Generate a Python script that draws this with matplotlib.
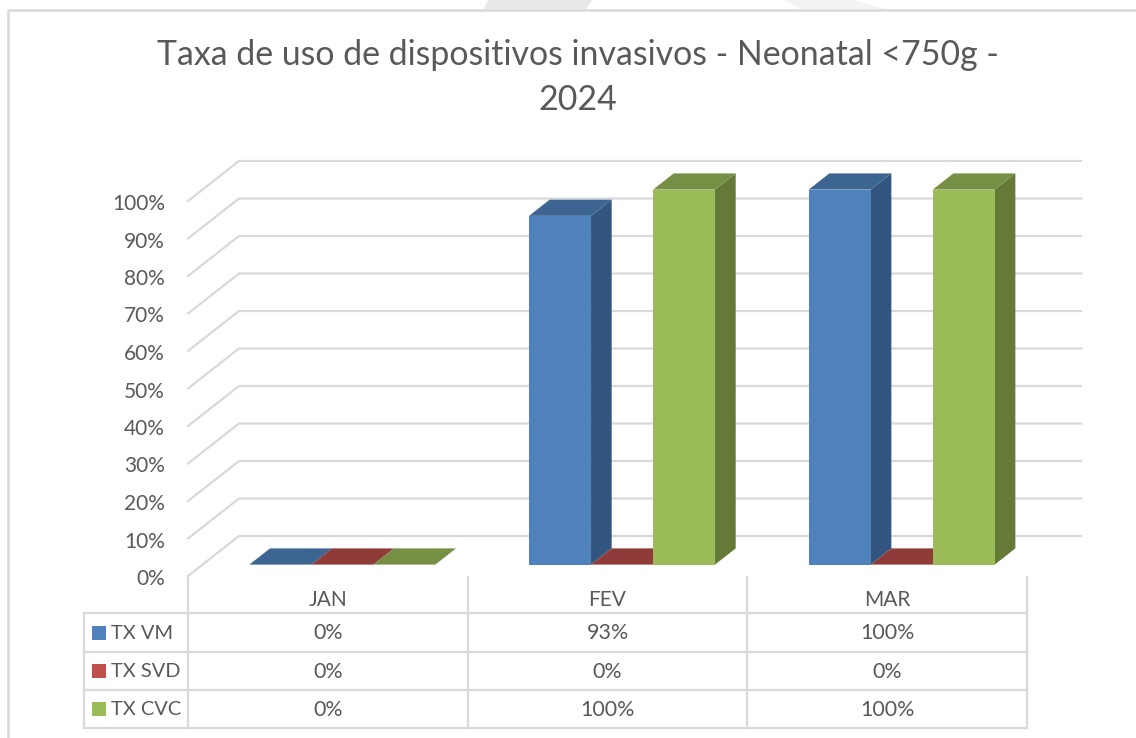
import matplotlib
matplotlib.use("Agg")
import matplotlib.pyplot as plt
from matplotlib.patches import Polygon, Rectangle
from matplotlib.transforms import ScaledTranslation

plt.rcParams['font.family'] = ['Lato', 'DejaVu Sans']

# ---- data ----
title = "Taxa de uso de dispositivos invasivos - Neonatal <750g -\n2024"
months = ["JAN", "FEV", "MAR"]
series = ["TX VM", "TX SVD", "TX CVC"]
tx_vm = [0, 93, 100]
tx_svd = [0, 0, 0]
tx_cvc = [0, 100, 100]
yticks = list(range(0, 101, 10))

# ---- styles ----
W, H = 1136, 738
GRID = "#d9d9d9"
TEXT = "#595959"
front = ["#4F81BD", "#C0504D", "#9BBB59"]
top = ["#3D6592", "#8F3B39", "#778F44"]
side = ["#325680", "#7F3331", "#647A36"]

fig = plt.figure(figsize=(W / 100, H / 100), dpi=100, facecolor="white")

# axes occupies the plot's front face: x=categories, y=percent
L, R, T0, B0 = 188, 1027, 201, 576
ax = fig.add_axes([L / W, 1 - B0 / H, (R - L) / W, (B0 - T0) / H])
ax.set_xlim(0, 3)
ax.set_ylim(0, 100)
ax.patch.set_visible(False)
for s in ax.spines.values():
    s.set_visible(False)
ax.set_xticks([])
ax.set_yticks(yticks)
ax.set_yticklabels([f"{v}%" for v in yticks], fontsize=15, color=TEXT)
ax.tick_params(axis="y", length=0, pad=16.5)
for lab in ax.get_yticklabels():
    lab.set_transform(lab.get_transform() + ScaledTranslation(0, -1 / 100, fig.dpi_scale_trans))

# scale helpers: pixels -> data units
sx = 3 / (R - L)
sy = 100 / (B0 - T0)
X = lambda px: (px - L) * sx
Y = lambda py: (B0 - py) * sy
DX, DY = 51 * sx, 40 * sy        # full depth of the 3D box


def proj(x, v, d):
    """Project category x / value v at depth fraction d into data coords."""
    return (x + d * DX, v + d * DY)


# walls
for v in yticks:
    ax.plot([X(L), X(L) + DX, X(1081)], [v, v + DY, v + DY],
            color=GRID, lw=1.6, clip_on=False, zorder=1, solid_joinstyle="miter")

# 3D bars
bar_w = 62 * sx
d0, d1 = 0.285, 0.69
group_off = 0.5 - 1.5 * 62 / 279.67
values = [tx_vm, tx_svd, tx_cvc]
for ci in range(len(months)):
    for si, vals in enumerate(values):
        v = vals[ci]
        x0 = ci + group_off + si * bar_w
        x1 = x0 + bar_w
        z = 3 + ci + si * 0.1
        if v > 0:
            ax.add_patch(Polygon([proj(x1, 0, d0), proj(x1, 0, d1), proj(x1, v, d1), proj(x1, v, d0)],
                                 fc=side[si], ec="none", clip_on=False, zorder=z))
        ax.add_patch(Polygon([proj(x0, v, d0), proj(x1, v, d0), proj(x1, v, d1), proj(x0, v, d1)],
                             fc=top[si], ec="none", clip_on=False, zorder=z))
        if v > 0:
            ax.add_patch(Polygon([proj(x0, 0, d0), proj(x1, 0, d0), proj(x1, v, d0), proj(x0, v, d0)],
                                 fc=front[si], ec="none", clip_on=False, zorder=z + 0.05))

# data table
rows_px = [613, 652, 690, 728]
tbl_left = 84
kw = dict(color=GRID, lw=1.6, clip_on=False, zorder=2, solid_capstyle="projecting")
for py in rows_px:
    ax.plot([X(tbl_left), 3], [Y(py), Y(py)], **kw)
ax.plot([X(tbl_left)] * 2, [Y(rows_px[0]), Y(rows_px[-1])], **kw)
for c in range(4):
    ax.plot([c, c], [Y(577), Y(rows_px[-1])], **kw)
for i, m in enumerate(months):
    ax.text(i + 0.5, Y(600), m, ha="center", va="center", fontsize=15, color=TEXT, clip_on=False)
for r, (name, vals) in enumerate(zip(series, values)):
    yc = Y((rows_px[r] + rows_px[r + 1]) / 2)
    ax.add_patch(Rectangle((X(92), yc - 7 * sy), 14 * sx, 14 * sy, fc=front[r], ec="none", clip_on=False, zorder=3))
    ax.text(X(111), yc - 0.2, name, ha="left", va="center", fontsize=14.4, color=TEXT, clip_on=False)
    for i, v in enumerate(vals):
        ax.text(i + 0.5, yc - 0.25, f"{v}%", ha="center", va="center", fontsize=15.4, color=TEXT, clip_on=False)

# title
fig.text(578 / W, 1 - 77.5 / H, title, ha="center", va="center", fontsize=24.4,
         color=TEXT, linespacing=1.52)

# chart frame and the page background shapes above it
bg = fig.add_axes([0, 0, 1, 1], zorder=-1)
bg.set_xlim(0, W)
bg.set_ylim(H, 0)
bg.axis("off")
bg.add_patch(Polygon([(488, 0), (592, 0), (586, 9), (484, 9)], fc="#e8e8e8", ec="none"))
bg.add_patch(Polygon([(785, 0), (853, 0), (885, 9), (800, 9)], fc="#f3f3f3", ec="none"))
bg.plot([8, 8, W], [H, 10, 10], color=GRID, lw=1.8)

fig.savefig("out.png", dpi=100)
